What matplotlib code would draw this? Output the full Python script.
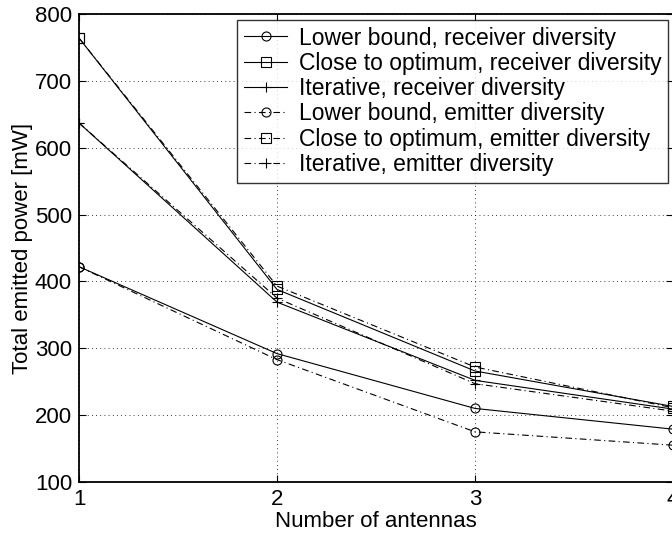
import matplotlib
matplotlib.use("Agg")
import matplotlib.pyplot as plt

plt.rcParams["font.family"] = ["Liberation Sans", "DejaVu Sans"]

antennas = [1, 2, 3, 4]

lower_receiver = [422, 292, 210, 179]
optimum_receiver = [764, 388, 266, 213]
iterative_receiver = [637, 369, 252, 209]
lower_emitter = [422, 283, 175, 155]
optimum_emitter = [764, 393, 272, 211]
iterative_emitter = [637, 375, 247, 206]

labels = [
    "Lower bound, receiver diversity",
    "Close to optimum, receiver diversity",
    "Iterative, receiver diversity",
    "Lower bound, emitter diversity",
    "Close to optimum, emitter diversity",
    "Iterative, emitter diversity",
]

fig = plt.figure(figsize=(6.72, 5.39), dpi=100)
ax = fig.add_axes([0.1176, 0.1058, 0.8839, 0.8682])

style = dict(color="black", linewidth=0.8, markersize=6.5,
             markerfacecolor="none", markeredgewidth=0.8)
dashdot = (0, (6, 3, 1, 3))

ax.plot(antennas, lower_receiver, "-", marker="o", label=labels[0], **style)
ax.plot(antennas, optimum_receiver, "-", marker="s", label=labels[1], **style)
ax.plot(antennas, iterative_receiver, "-", marker="+", label=labels[2], **style)
ax.plot(antennas, lower_emitter, linestyle=dashdot, marker="o", label=labels[3], **style)
ax.plot(antennas, optimum_emitter, linestyle=dashdot, marker="s", label=labels[4], **style)
ax.plot(antennas, iterative_emitter, linestyle=dashdot, marker="+", label=labels[5], **style)

ax.set_xlim(1, 4)
ax.set_ylim(100, 800)
ax.set_xticks(antennas)
ax.set_yticks(range(100, 801, 100))
ax.grid(True, linestyle=(0, (1, 4)), color="black", linewidth=0.6)
ax.tick_params(direction="in", length=5, width=0.8, top=True, right=True,
               labelsize=16, pad=5)
for sp in ax.spines.values():
    sp.set_linewidth(1.3)

ax.set_xlabel("Number of antennas", fontsize=16, labelpad=1)
ax.set_ylabel("Total emitted power [mW]", fontsize=16, labelpad=1)

leg = ax.legend(loc="upper right", bbox_to_anchor=(0.992, 0.988), fontsize=16.5,
                frameon=True, fancybox=False, edgecolor="black",
                handlelength=1.9, handletextpad=0.5, borderpad=0.3,
                labelspacing=0.1, borderaxespad=0)
leg.get_frame().set_linewidth(1.0)

fig.savefig("out.png", dpi=100)
